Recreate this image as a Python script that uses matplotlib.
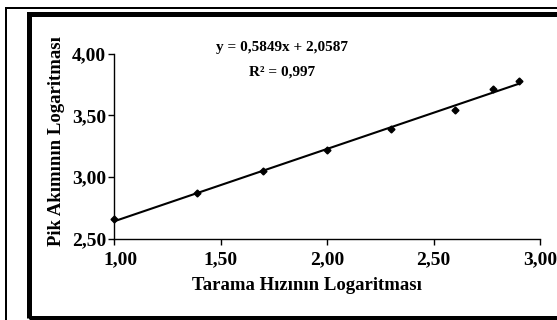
import matplotlib
matplotlib.use("Agg")
import matplotlib.pyplot as plt
import matplotlib.transforms as mtransforms
from matplotlib.patches import Rectangle
from matplotlib.lines import Line2D
from matplotlib.ticker import FuncFormatter

# log of scan rate vs log of peak current
log_scan = [1.00, 1.39, 1.70, 2.00, 2.30, 2.60, 2.78, 2.90]
log_peak = [2.66, 2.87, 3.05, 3.22, 3.39, 3.54, 3.71, 3.78]
slope, intercept = 0.5849, 2.0587
eq_text = "y = 0,5849x + 2,0587"
r2_text = "R² = 0,997"
x_ticks = [1.0, 1.5, 2.0, 2.5, 3.0]
y_ticks = [2.5, 3.0, 3.5, 4.0]

plt.rcParams['font.family'] = ['Liberation Serif', 'DejaVu Serif']
plt.rcParams['font.weight'] = 'bold'

W, H = 557, 320
fig = plt.figure(figsize=(W / 100, H / 100), dpi=100)
ax = fig.add_axes([114.3 / W, 1 - 239 / H, (540 - 114.3) / W, (239 - 53.5) / H])

# trend line over the data range
x0, x1 = min(log_scan), max(log_scan)
ax.plot([x0, x1], [slope * x0 + intercept, slope * x1 + intercept],
        color='black', lw=1.5, zorder=2)
ax.plot(log_scan, log_peak, linestyle='none', marker='D', ms=3.5,
        color='black', zorder=3, clip_on=False)

ax.set_xlim(1, 3)
ax.set_ylim(2.5, 4)
ax.set_xticks(x_ticks)
ax.set_yticks(y_ticks)
fmt = FuncFormatter(lambda v, p: f"{v:.2f}".replace('.', ','))
ax.xaxis.set_major_formatter(fmt)
ax.yaxis.set_major_formatter(fmt)
ax.tick_params(axis='both', direction='out', length=4, width=1,
               labelsize=14, pad=2)
ax.tick_params(axis='x', pad=5)
for lab in ax.get_xticklabels() + ax.get_yticklabels():
    lab.set_fontweight('bold')
# first x label sits a little to the right of its tick
first = ax.get_xticklabels()[0]
first.set_transform(first.get_transform() +
                    mtransforms.ScaledTranslation(6 / 100, 0, fig.dpi_scale_trans))

for s in ['top', 'right']:
    ax.spines[s].set_visible(False)
for s in ['left', 'bottom']:
    ax.spines[s].set_linewidth(1)
    ax.spines[s].set_color('black')

ax.set_xlabel("Tarama Hızının Logaritması", fontsize=13.5, fontweight='bold')
ax.xaxis.set_label_coords(0.452, -0.205)
ax.set_ylabel("Pik Akımının Logaritması", fontsize=13.5, fontweight='bold',
              ha='center', va='center')
ax.yaxis.set_label_coords(-0.135, 0.526)

ax.text(0.394, 1.035, eq_text, transform=ax.transAxes, ha='center',
        va='center', fontsize=11, fontweight='bold')
ax.text(0.394, 0.9, r2_text, transform=ax.transAxes, ha='center',
        va='center', fontsize=11, fontweight='bold')

# frames around the figure
px = 72 / 100
fig.add_artist(Rectangle((28.5 / W, 1 - 317.5 / H), 1, (317.5 - 13.5) / H,
                         transform=fig.transFigure, fill=False,
                         edgecolor='black', lw=5 * px))
fig.add_artist(Line2D([5.5 / W, 5.5 / W], [1 - 7.5 / H, 0],
                      transform=fig.transFigure, color='black', lw=2 * px))
fig.add_artist(Line2D([5.5 / W, 1], [1 - 7.5 / H, 1 - 7.5 / H],
                      transform=fig.transFigure, color='black', lw=2 * px))

fig.savefig("out.png", dpi=100)
